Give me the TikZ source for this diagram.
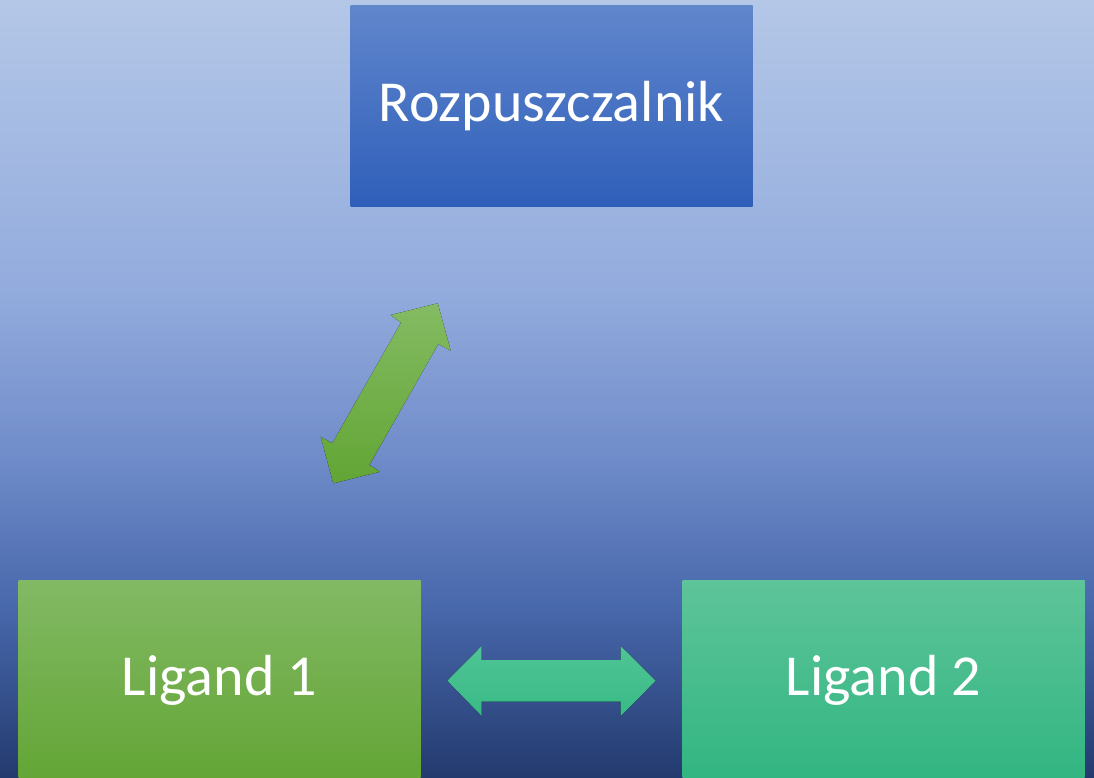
\documentclass[tikz,border=0pt]{standalone}
\usepackage{fontspec}
\setmainfont{Carlito}
\definecolor{bgA}{RGB}{35,58,110}
\definecolor{bgB}{RGB}{72,104,172}
\definecolor{bgC}{RGB}{113,141,202}
\definecolor{bgD}{RGB}{146,171,221}
\definecolor{bgE}{RGB}{180,199,231}
\definecolor{blueT}{RGB}{96,134,204}
\definecolor{blueB}{RGB}{47,95,186}
\definecolor{greenT}{RGB}{130,185,100}
\definecolor{greenB}{RGB}{99,165,53}
\definecolor{tealT}{RGB}{94,196,154}
\definecolor{tealB}{RGB}{49,181,129}
\definecolor{dgT}{RGB}{132,187,99}
\definecolor{dgB}{RGB}{98,165,52}
\definecolor{haT}{RGB}{80,196,150}
\definecolor{haB}{RGB}{56,186,133}
\pgfdeclareverticalshading{bgshade}{100bp}{color(0bp)=(bgA); color(25bp)=(bgA); color(36bp)=(bgB); color(46bp)=(bgC); color(56bp)=(bgD); color(75bp)=(bgE); color(100bp)=(bgE)}
\begin{document}
\begin{tikzpicture}[x=1pt,y=-1pt,
  box/.style={minimum width=402pt,minimum height=201pt,inner sep=0pt,
    text=white,font=\fontsize{58}{70}\selectfont},
  bluebox/.style={box,top color=blueT,bottom color=blueB},
  greenbox/.style={box,top color=greenT,bottom color=greenB},
  tealbox/.style={box,top color=tealT,bottom color=tealB}]
\useasboundingbox (0,0) rectangle (1094,778);
\clip (0,0) rectangle (1094,778);
\fill[shading=bgshade] (0,0) rectangle (1094,778);
\node[bluebox] (roz) at (551.5,106) {Rozpuszczalnik};
\node[greenbox] (l1) at (219.5,680.5) {Ligand 1};
\node[tealbox] (l2) at (883.5,680.5) {Ligand 2};
% diagonal double arrow
\fill[top color=dgT,bottom color=dgB]
  (437.7,303.3) -- (450.7,350.7) -- (438.3,344) -- (369.3,465) -- (380,471.7)
  -- (333.3,483.3) -- (320.7,436.7) -- (332.3,443.3) -- (401,322.7) -- (390.7,315) -- cycle;
% horizontal double arrow
\fill[top color=haT,bottom color=haB]
  (447.3,680.7) -- (481.7,646) -- (481.7,660) -- (620.7,660) -- (620.7,646)
  -- (655.7,680.7) -- (620.7,716) -- (620.7,701.7) -- (481.7,701.7) -- (481.7,716) -- cycle;
\end{tikzpicture}
\end{document}
